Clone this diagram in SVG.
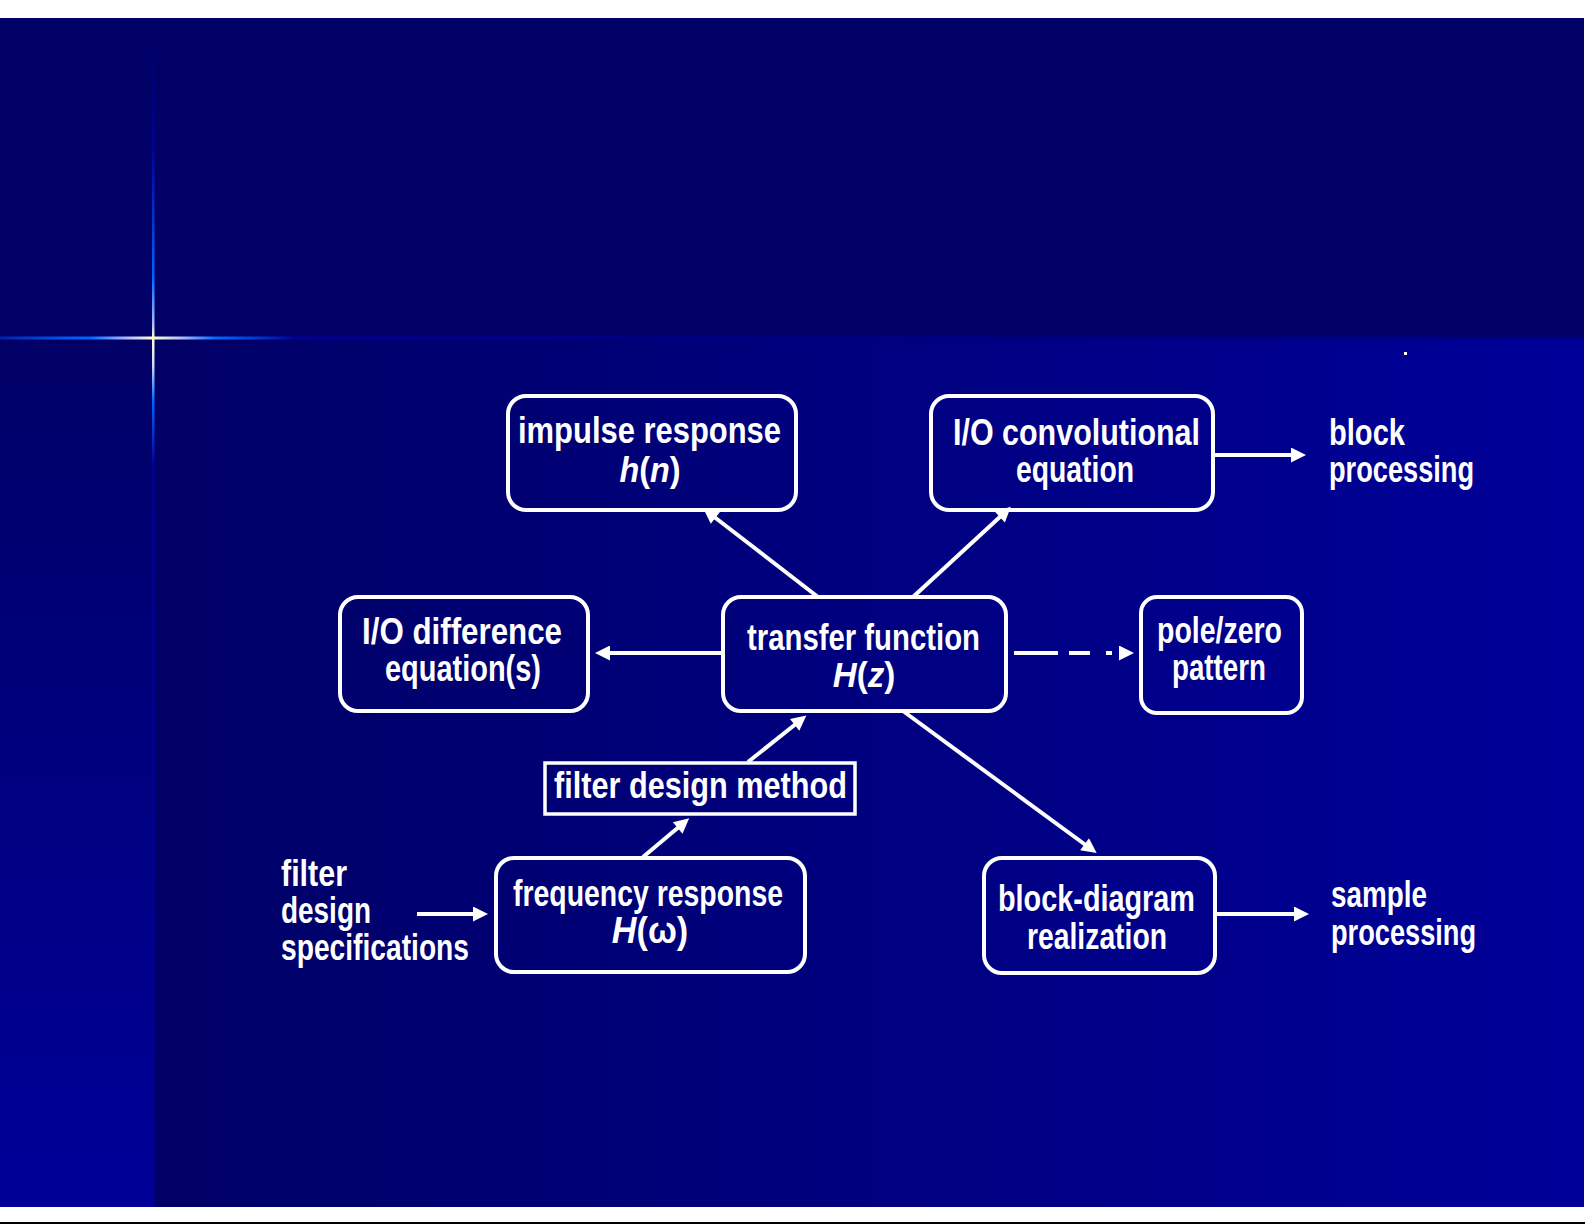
<svg xmlns="http://www.w3.org/2000/svg" width="1585" height="1225" viewBox="0 0 1585 1225">
<style>
.box{fill:none;stroke:#ffffff;stroke-width:4}
.lbl{font-family:"Liberation Sans Narrow","Liberation Sans",Arial,sans-serif;font-weight:bold;font-size:36px;fill:#ffffff}
.it{font-style:italic}
.con{stroke:#ffffff;stroke-width:4;fill:none}
</style>
<defs>
<linearGradient id="gBottom" x1="0" y1="0" x2="1" y2="0">
<stop offset="0" stop-color="#000066"/>
<stop offset="1" stop-color="#000099"/>
</linearGradient>
<linearGradient id="gLeft" x1="0" y1="0" x2="0" y2="1">
<stop offset="0" stop-color="#000066"/>
<stop offset="1" stop-color="#000099"/>
</linearGradient>
<linearGradient id="gVert" gradientUnits="userSpaceOnUse" x1="0" y1="30" x2="0" y2="1207">
<stop offset="0" stop-color="#000066"/>
<stop offset="0.10" stop-color="#000099"/>
<stop offset="0.16" stop-color="#0033cc"/>
<stop offset="0.21" stop-color="#0066ff"/>
<stop offset="0.25" stop-color="#aabbff"/>
<stop offset="0.262" stop-color="#ffffcc"/>
<stop offset="0.285" stop-color="#ccd8ff"/>
<stop offset="0.315" stop-color="#0066ff"/>
<stop offset="0.37" stop-color="#000099"/>
<stop offset="1" stop-color="#000099"/>
</linearGradient>
<linearGradient id="gHor" gradientUnits="userSpaceOnUse" x1="0" y1="0" x2="1585" y2="0">
<stop offset="0" stop-color="#0022aa"/>
<stop offset="0.04" stop-color="#0055ee"/>
<stop offset="0.057" stop-color="#0066ff"/>
<stop offset="0.08" stop-color="#aabbff"/>
<stop offset="0.0965" stop-color="#ffffcc"/>
<stop offset="0.115" stop-color="#aabbff"/>
<stop offset="0.136" stop-color="#0066ff"/>
<stop offset="0.165" stop-color="#0033cc"/>
<stop offset="0.185" stop-color="#000099"/>
<stop offset="0.5" stop-color="#000088"/>
<stop offset="1" stop-color="#000080"/>
</linearGradient>
<marker id="ah" viewBox="0 0 10 10" refX="2" refY="5" markerUnits="userSpaceOnUse" markerWidth="22" markerHeight="15" orient="auto">
<path d="M0,0 L10,5 L0,10 z" fill="#ffffff"/>
</marker>
</defs>

<g id="background">
<rect x="0" y="0" width="1585" height="1225" fill="#ffffff"/>
<rect x="0" y="18" width="1584" height="322" fill="#000066"/>
<rect x="152" y="340" width="1432" height="867" fill="url(#gBottom)"/>
<rect x="0" y="340" width="152" height="867" fill="url(#gLeft)"/>
<rect x="0" y="1222" width="1585" height="2" fill="#000000"/>
<rect x="152" y="30" width="2.5" height="1177" fill="url(#gVert)"/>
<rect x="0" y="336.5" width="1584" height="3" fill="url(#gHor)"/>
<rect x="1404" y="352" width="3" height="3" fill="#ffffff"/>
</g>

<g id="connectors">
<line class="con" x1="818" y1="597" x2="713" y2="516" marker-end="url(#ah)"/>
<line class="con" x1="913" y1="597" x2="1002" y2="515" marker-end="url(#ah)"/>
<line class="con" x1="723" y1="653" x2="607" y2="653" marker-end="url(#ah)"/>
<line class="con" x1="1014" y1="653" x2="1122" y2="653" stroke-dasharray="44 11 21 16 6 40" marker-end="url(#ah)"/>
<line class="con" x1="748" y1="762" x2="797" y2="723" marker-end="url(#ah)"/>
<line class="con" x1="643" y1="857" x2="680" y2="826" marker-end="url(#ah)"/>
<line class="con" x1="417" y1="914" x2="476" y2="914" marker-end="url(#ah)"/>
<line class="con" x1="903" y1="711" x2="1087" y2="846" marker-end="url(#ah)"/>
<line class="con" x1="1213" y1="455" x2="1294" y2="455" marker-end="url(#ah)"/>
<line class="con" x1="1214" y1="914" x2="1297" y2="914" marker-end="url(#ah)"/>
</g>

<g id="node-impulse">
<rect class="box" x="508" y="396" width="288" height="114" rx="18"/>
<text class="lbl" x="518" y="443" textLength="263" lengthAdjust="spacingAndGlyphs">impulse  response</text>
<text class="lbl" transform="translate(650,482) scale(0.9,1)" x="0" y="0" text-anchor="middle"><tspan class="it">h</tspan>(<tspan class="it">n</tspan>)</text>
</g>

<g id="node-convolution">
<rect class="box" x="931" y="396" width="282" height="114" rx="18"/>
<text class="lbl" x="953" y="445" textLength="247" lengthAdjust="spacingAndGlyphs">I/O  convolutional</text>
<text class="lbl" x="1016" y="482" textLength="118" lengthAdjust="spacingAndGlyphs">equation</text>
</g>

<g id="node-block-processing">
<text class="lbl" x="1329" y="445" textLength="76" lengthAdjust="spacingAndGlyphs">block</text>
<text class="lbl" x="1329" y="482" textLength="145" lengthAdjust="spacingAndGlyphs">processing</text>
</g>

<g id="node-difference">
<rect class="box" x="340" y="597" width="248" height="114" rx="18"/>
<text class="lbl" x="362" y="644" textLength="200" lengthAdjust="spacingAndGlyphs">I/O  difference</text>
<text class="lbl" x="385" y="681" textLength="156" lengthAdjust="spacingAndGlyphs">equation(s)</text>
</g>

<g id="node-transfer">
<rect class="box" x="723" y="597" width="283" height="114" rx="18"/>
<text class="lbl" x="747" y="650" textLength="233" lengthAdjust="spacingAndGlyphs">transfer  function</text>
<text class="lbl" transform="translate(864,687) scale(0.92,1)" x="0" y="0" text-anchor="middle"><tspan class="it">H</tspan>(<tspan class="it">z</tspan>)</text>
</g>

<g id="node-polezero">
<rect class="box" x="1141" y="597" width="161" height="116" rx="16"/>
<text class="lbl" x="1157" y="643" textLength="125" lengthAdjust="spacingAndGlyphs">pole/zero</text>
<text class="lbl" x="1172" y="680" textLength="94" lengthAdjust="spacingAndGlyphs">pattern</text>
</g>

<g id="node-design-method">
<rect x="545" y="763" width="310" height="51" fill="none" stroke="#ffffff" stroke-width="3.5"/>
<text class="lbl" x="554" y="798" textLength="293" lengthAdjust="spacingAndGlyphs">filter  design  method</text>
</g>

<g id="node-frequency">
<rect class="box" x="496" y="858" width="309" height="114" rx="18"/>
<text class="lbl" x="513" y="906" textLength="270" lengthAdjust="spacingAndGlyphs">frequency  response</text>
<text class="lbl" transform="translate(650,943) scale(0.95,1)" x="0" y="0" text-anchor="middle"><tspan class="it">H</tspan>(ω)</text>
</g>

<g id="node-specifications">
<text class="lbl" x="281" y="886" textLength="66" lengthAdjust="spacingAndGlyphs">filter</text>
<text class="lbl" x="281" y="923" textLength="90" lengthAdjust="spacingAndGlyphs">design</text>
<text class="lbl" x="281" y="960" textLength="188" lengthAdjust="spacingAndGlyphs">specifications</text>
</g>

<g id="node-block-diagram">
<rect class="box" x="984" y="858" width="231" height="115" rx="18"/>
<text class="lbl" x="998" y="911" textLength="197" lengthAdjust="spacingAndGlyphs">block-diagram</text>
<text class="lbl" x="1027" y="949" textLength="140" lengthAdjust="spacingAndGlyphs">realization</text>
</g>

<g id="node-sample-processing">
<text class="lbl" x="1331" y="907" textLength="96" lengthAdjust="spacingAndGlyphs">sample</text>
<text class="lbl" x="1331" y="945" textLength="145" lengthAdjust="spacingAndGlyphs">processing</text>
</g>
</svg>
